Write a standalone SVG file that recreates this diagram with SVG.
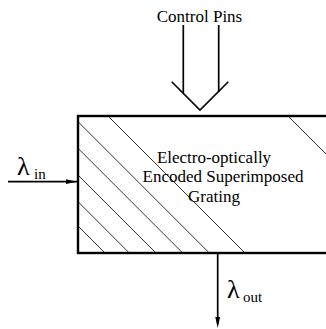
<svg xmlns="http://www.w3.org/2000/svg" width="326" height="329" viewBox="0 0 326 329">
<style>
text{font-family:'Liberation Serif','Times New Roman',serif;fill:#000}
.h{stroke:#333;stroke-width:1;fill:none}
.c{stroke:#000;fill:none}
</style>
<rect width="326" height="329" fill="#fff"/>
<g id="grating">
<line class="h" x1="288" y1="116" x2="330" y2="158"/>
<line class="h" x1="108" y1="116" x2="245" y2="253"/>
<line class="h" x1="78" y1="121.7" x2="209.3" y2="253"/>
<line class="h" x1="78" y1="148.3" x2="182.7" y2="253"/>
<line class="h" x1="78" y1="175" x2="156" y2="253"/>
<line class="h" x1="78" y1="201.7" x2="129.3" y2="253"/>
<line class="h" x1="78" y1="226" x2="105" y2="253"/>
<rect x="78" y="116" width="262" height="137" fill="none" stroke="#000" stroke-width="2.4"/>
<text font-size="17" text-anchor="middle" x="214" y="163">Electro-optically</text>
<text font-size="17" text-anchor="middle" x="223" y="182">Encoded Superimposed</text>
<text font-size="17" text-anchor="middle" x="214" y="202">Grating</text>
</g>
<g id="control">
<text font-size="17" text-anchor="middle" x="199.5" y="22">Control Pins</text>
</g>
<g id="input">
<text x="17" y="175"><tspan font-size="26">λ</tspan><tspan font-size="15" x="34" dy="3.5">in</tspan></text>
</g>
<g id="output">
<text x="227" y="298"><tspan font-size="26">λ</tspan><tspan font-size="15" x="243" dy="3.5">out</tspan></text>
</g>
<g id="connectors">
<line class="c" stroke-width="1.7" x1="183.3" y1="25" x2="183.3" y2="93"/>
<line class="c" stroke-width="1.7" x1="218.7" y1="25" x2="218.7" y2="92"/>
<polyline class="c" stroke-width="1.6" points="171.7,81.7 200,110 228.3,81.7"/>
<line class="c" stroke-width="1.7" x1="8" y1="181.7" x2="77" y2="181.7"/>
<polygon points="66,179.3 77,181.7 66,184.1" fill="#000"/>
<line class="c" stroke-width="1.7" x1="217.7" y1="253" x2="217.7" y2="324"/>
<polygon points="215.3,317 217.7,328 220.1,317" fill="#000"/>
</g>
</svg>
